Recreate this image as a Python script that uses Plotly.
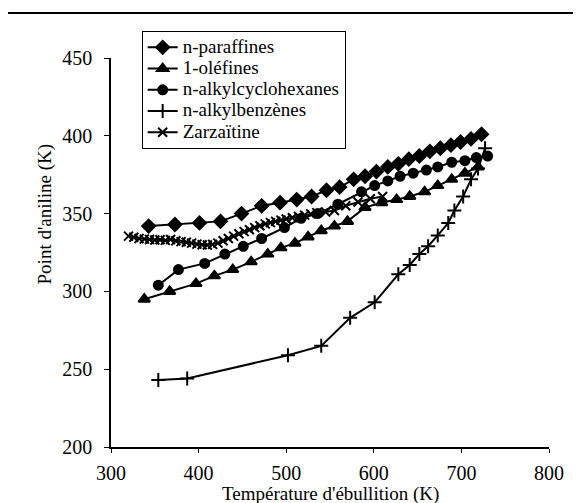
import plotly.graph_objects as go

# ---- data ----
paraffines_x = [343, 373, 401, 425, 449, 472, 493, 512, 529, 546, 561, 577, 590, 603, 616, 628, 640, 652, 664, 676, 688, 699, 711, 723]
paraffines_y = [342, 343, 344, 345, 350, 355, 357, 359, 361, 365, 367, 372, 374, 377, 380, 382, 385, 387, 390, 392, 394, 396, 398, 401]

olefines_x = [338, 367, 397, 418, 439, 460, 479, 494, 510, 525, 540, 555, 570, 590, 609, 626, 641, 658, 673, 689, 704, 719]
olefines_y = [295, 300, 305, 310, 314, 319, 324, 328, 331, 335, 339, 342, 345, 354, 357, 359, 361, 364, 368, 372, 376, 380]

cyclohex_x = [354, 377, 407, 430, 451, 472, 498, 517, 536, 559, 586, 601, 616, 630, 645, 660, 673, 689, 704, 717, 730]
cyclohex_y = [304, 314, 318, 324, 329, 334, 341, 347, 350, 356, 364, 368, 371, 374, 376, 378, 380, 383, 384, 386, 387]

benzenes_x = [354, 387, 502, 540, 573, 601, 628, 641, 652, 662, 673, 685, 692, 702, 711, 719, 727]
benzenes_y = [243, 244, 259, 265, 283, 293, 311, 317, 324, 329, 336, 344, 352, 361, 372, 379, 392]

zarz_x = [320, 326, 332, 338, 344, 350, 356, 362, 368, 374, 380, 386, 392, 398, 404, 410, 416, 422, 428, 434,
          440, 446, 452, 458, 464, 470, 476, 482, 488, 494, 500, 507, 514, 521, 528, 535, 545, 555, 568, 582, 596, 610]
zarz_y = [335.5, 334.8, 334.0, 333.6, 333.4, 333.0, 333.2, 332.8, 333.4, 332.6, 332.0, 331.6, 331.0, 330.4, 330.0,
          329.8, 330.2, 331.0, 332.5, 334.0, 335.5, 337.0, 338.4, 339.6, 341.0, 342.2, 343.4, 344.2, 345.0, 345.8,
          346.5, 347.3, 348.2, 349.0, 349.8, 350.6, 351.0, 352.0, 355.0, 357.5, 359.5, 361.0]

names = ["n-paraffines", "1-oléfines", "n-alkylcyclohexanes", "n-alkylbenzènes", "Zarzaïtine"]
xticks = [300, 400, 500, 600, 700, 800]
yticks = [200, 250, 300, 350, 400, 450]

FONT = "Liberation Serif, DejaVu Serif, serif"

fig = go.Figure()
series = [
    (paraffines_x, paraffines_y, "diamond", 10),
    (olefines_x, olefines_y, "triangle-up", 10),
    (cyclohex_x, cyclohex_y, "circle", 9),
    (benzenes_x, benzenes_y, "cross-thin", 10),
    (zarz_x, zarz_y, "x-thin", 9),
]
for (xs, ys, sym, sz), nm in zip(series, names):
    fig.add_trace(go.Scatter(
        x=xs, y=ys, name='<span style="font-size:19px">' + nm + '</span>',
        mode="lines+markers",
        line=dict(color="black", width=2),
        marker=dict(symbol=sym, size=sz, color="black",
                    line=dict(color="black", width=2)),
    ))

fig.update_layout(
    width=581, height=503,
    margin=dict(l=103, r=40, t=50, b=64),
    paper_bgcolor="white", plot_bgcolor="white",
    font=dict(family=FONT, color="black", size=20),
    showlegend=True,
    legend=dict(
        x=0.07, y=1.07, xanchor="left", yanchor="top",
        bgcolor="white", bordercolor="black", borderwidth=1,
        font=dict(family=FONT, size=14, color="black"),
        itemwidth=30, tracegroupgap=0,
    ),
    xaxis=dict(
        range=[300, 800], tickvals=xticks, ticktext=[str(v) for v in xticks],
        showgrid=False, zeroline=False, showline=True, linecolor="black", linewidth=1.5,
        ticks="outside", ticklen=4, tickcolor="black",
        ticklabelstandoff=3,
        tickfont=dict(family=FONT, size=20, color="black"),
    ),
    yaxis=dict(
        range=[200, 450], tickvals=yticks, ticktext=[str(v) for v in yticks],
        showgrid=False, zeroline=False, showline=True, linecolor="black", linewidth=1.5,
        ticks="outside", ticklen=5, tickcolor="black",
        ticklabelstandoff=8,
        tickfont=dict(family=FONT, size=20, color="black"),
    ),
    annotations=[
        dict(text="Température d'ébullition (K)", xref="paper", yref="paper",
             x=0.5, y=-0.122, xanchor="center", yanchor="middle", showarrow=False,
             font=dict(family=FONT, size=19, color="black")),
        dict(text="Point d'aniline (K)", xref="paper", yref="paper",
             x=-0.151, y=0.60, xanchor="center", yanchor="middle", showarrow=False,
             textangle=-90, font=dict(family=FONT, size=19, color="black")),
    ],
    shapes=[
        dict(type="line", xref="paper", yref="paper", x0=-0.235, x1=1.091, y0=1.1157, y1=1.1157,
             line=dict(color="black", width=2)),
        dict(type="line", xref="paper", yref="paper", x0=1.0845, x1=1.0845, y0=-0.15, y1=1.1,
             line=dict(color="black", width=1, dash="dash")),
    ],
)

fig.write_html("out.html")
